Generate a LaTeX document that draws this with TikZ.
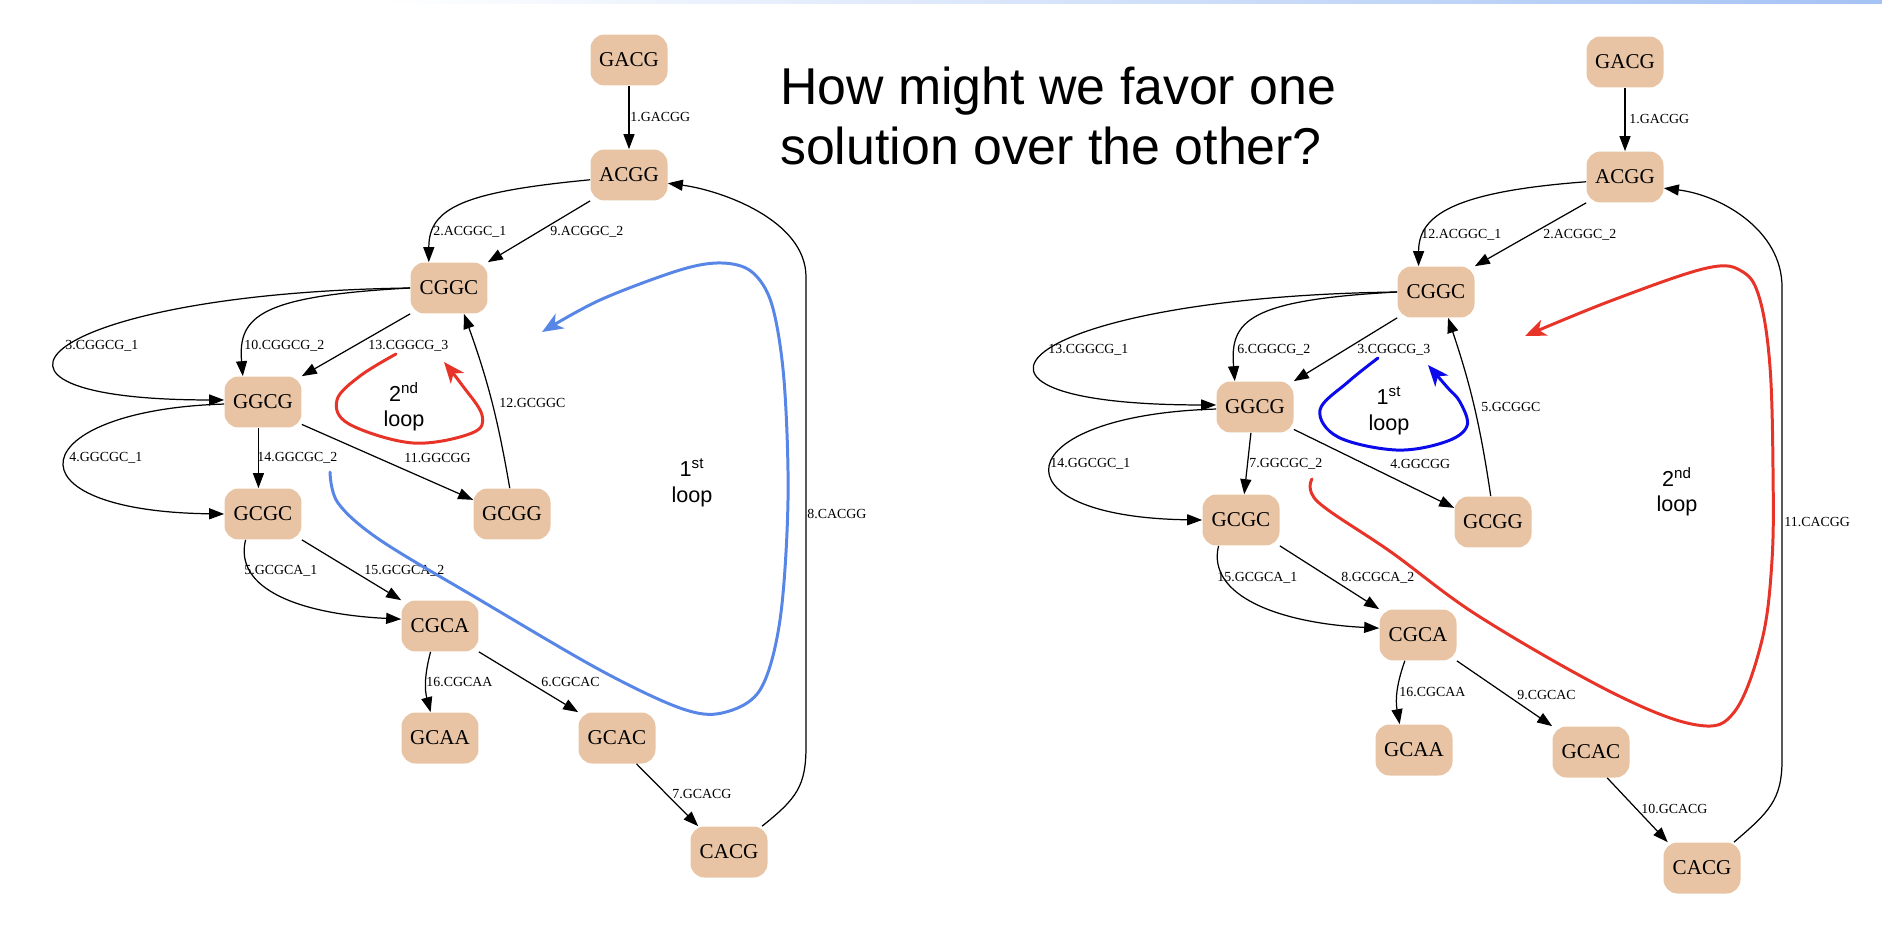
\documentclass[tikz,border=0pt]{standalone}
\usepackage{fontspec}
\setmainfont{Liberation Serif}
\setsansfont{Liberation Sans}
\usetikzlibrary{arrows.meta}

\definecolor{peach}{RGB}{232,196,164}
\definecolor{loopblue}{RGB}{88,134,230}
\definecolor{loopred}{RGB}{232,52,40}
\definecolor{deepblue}{RGB}{10,10,235}
\definecolor{barblue}{RGB}{164,194,244}

\begin{document}
\begin{tikzpicture}[x=0.02cm, y=-0.02cm,
    kmer node/.style={rectangle, rounded corners=0.28cm, fill=peach, minimum width=1.54cm,
                      minimum height=1.02cm, inner sep=0pt, font=\fontsize{12}{13}\selectfont},
    kmer edge/.style={draw, line width=0.7pt, -{Triangle[length=0.3cm,width=0.22cm]}},
    kmer label/.style={anchor=west, inner sep=0.6pt, font=\fontsize{7.9}{9}\selectfont},
    loop line/.style={line width=1.7pt, line cap=round,
                      -{Stealth[length=0.42cm,width=0.34cm,inset=0.12cm]}},
    loop text/.style={align=center, font=\sffamily\fontsize{12.3}{14.7}\selectfont},
    title text/.style={anchor=base west, font=\sffamily\fontsize{29.5}{34}\selectfont}]

  \useasboundingbox (0,0) rectangle (1882,932);
  \shade[left color=white, right color=barblue] (380,0) rectangle (1882,4);

  % left solution
  \node[kmer node] (lGACG) at (629,60)  {GACG};
  \node[kmer node] (lACGG) at (629,175) {ACGG};
  \node[kmer node] (lCGGC) at (449,288) {CGGC};
  \node[kmer node] (lGGCG) at (263,402) {GGCG};
  \node[kmer node] (lGCGC) at (263,514) {GCGC};
  \node[kmer node] (lGCGG) at (512,514) {GCGG};
  \node[kmer node] (lCGCA) at (440,626) {CGCA};
  \node[kmer node] (lGCAA) at (440,738) {GCAA};
  \node[kmer node] (lGCAC) at (617,738) {GCAC};
  \node[kmer node] (lCACG) at (729,852) {CACG};

  \draw[kmer edge] (lGACG) -- (lACGG);
  \draw[kmer edge] (lACGG.187) .. controls +(-125,12) and +(0,-55) .. (lCGGC.128);
  \draw[kmer edge] (lACGG.south west) -- (lCGGC.north east);
  \draw[kmer edge] (lCGGC.west) .. controls +(-370,5) and +(-294,0) .. (lGGCG.177);
  \draw[kmer edge] (lCGGC.west) .. controls +(-150,8) and +(-5,-60) .. (lGGCG.128);
  \draw[kmer edge] (lCGGC.south west) -- (lGGCG.north east);
  \draw[kmer edge] (lGCGG.95) to[bend right=5] (lCGGC.-60);
  \draw[kmer edge] (lGGCG.183) .. controls +(-200,6) and +(-224,-3) .. (lGCGC.west);
  \draw[kmer edge] (lGGCG.-100) -- (lGCGC.100);
  \draw[kmer edge] (lGGCG.-30) -- (lGCGG.160);
  \draw[kmer edge] (lGCGC.-124) .. controls +(-12,50) and +(-100,-5) .. (lCGCA.170);
  \draw[kmer edge] (lGCGC.south east) -- (lCGCA.north west);
  \draw[kmer edge] (lCGCA.-110) to[bend right=15] (lGCAA.110);
  \draw[kmer edge] (lCGCA.south east) -- (lGCAC.north west);
  \draw[kmer edge] (lGCAC.-53) -- (lCACG.140);
  \draw[kmer edge] (lCACG.38) .. controls +(35,-28) and +(0,40) .. (806,746)
    -- (806,277) .. controls +(0,-57) and +(53,7) .. (lACGG.-12);

  \path[every node/.style={kmer label}]
    node (lt1)  at (629,117) {1.GACGG}
    node (lt2)  at (432,232) {2.ACGGC\_1}
    node (lt9)  at (549,232) {9.ACGGC\_2}
    node (lt3)  at (64,346)  {3.CGGCG\_1}
    node (lt10) at (243,346) {10.CGGCG\_2}
    node (lt13) at (367,346) {13.CGGCG\_3}
    node (lt12) at (498,403) {12.GCGGC}
    node (lt4)  at (68,458)  {4.GGCGC\_1}
    node (lt14) at (256,458) {14.GGCGC\_2}
    node (lt11) at (403,458) {11.GGCGG}
    node (lt5)  at (243,571) {5.GCGCA\_1}
    node (lt15) at (363,571) {15.GCGCA\_2}
    node (lt16) at (425,682) {16.CGCAA}
    node (lt6)  at (540,682) {6.CGCAC}
    node (lt7)  at (671,794) {7.GCACG}
    node (lt8)  at (806,514) {8.CACGG};

  \draw[loop line, loopred] plot[smooth, tension=0.6] coordinates {(396,354) (360,376) (337,400)
    (349,424) (413,443) (472,433) (482,415) (462,385) (444,362)};
  \draw[loop line, loopblue] plot[smooth, tension=0.55] coordinates {(330,472) (338,503) (380,540)
    (480,600) (600,670) (680,708) (722,713) (760,690) (780,620) (788,500) (784,380) (772,305)
    (752,272) (722,263) (680,270) (600,300) (542,332)};
  \node[loop text] (lloop2) at (404,407) {2\textsuperscript{nd}\\loop};
  \node[loop text] (lloop1) at (692,483) {1\textsuperscript{st}\\loop};

  % question
  \node[title text] (q1) at (774,105) {How might we favor one};
  \node[title text] (q2) at (774,165) {solution over the other?};

  % right solution
  \node[kmer node] (rGACG) at (1625,62)  {GACG};
  \node[kmer node] (rACGG) at (1625,177) {ACGG};
  \node[kmer node] (rCGGC) at (1436,292) {CGGC};
  \node[kmer node] (rGGCG) at (1255,407) {GGCG};
  \node[kmer node] (rGCGC) at (1241,520) {GCGC};
  \node[kmer node] (rGCGG) at (1493,522) {GCGG};
  \node[kmer node] (rCGCA) at (1418,635) {CGCA};
  \node[kmer node] (rGCAA) at (1414,750) {GCAA};
  \node[kmer node] (rGCAC) at (1591,752) {GCAC};
  \node[kmer node] (rCACG) at (1702,868) {CACG};

  \draw[kmer edge] (rGACG) -- (rACGG);
  \draw[kmer edge] (rACGG.187) .. controls +(-135,10) and +(0,-50) .. (rCGGC.124);
  \draw[kmer edge] (rACGG.south west) -- (rCGGC.north east);
  \draw[kmer edge] (rCGGC.west) .. controls +(-380,5) and +(-310,0) .. (rGGCG.177);
  \draw[kmer edge] (rCGGC.west) .. controls +(-150,8) and +(-5,-60) .. (rGGCG.128);
  \draw[kmer edge] (rCGGC.south west) -- (rGGCG.north east);
  \draw[kmer edge] (rGCGG.95) to[bend right=5] (rCGGC.-65);
  \draw[kmer edge] (rGGCG.183) .. controls +(-210,6) and +(-212,-3) .. (rGCGC.west);
  \draw[kmer edge] (rGGCG.-99) -- (rGCGC.83);
  \draw[kmer edge] (rGGCG.-30) -- (rGCGG.160);
  \draw[kmer edge] (rGCGC.-131) .. controls +(-12,50) and +(-100,-5) .. (rCGCA.170);
  \draw[kmer edge] (rGCGC.south east) -- (rCGCA.north west);
  \draw[kmer edge] (rCGCA.-117) to[bend right=15] (rGCAA.119);
  \draw[kmer edge] (rCGCA.south east) -- (rGCAC.north west);
  \draw[kmer edge] (rGCAC.-58) -- (rCACG.143);
  \draw[kmer edge] (rCACG.39) .. controls +(35,-30) and +(0,40) .. (1782,760)
    -- (1782,287) .. controls +(0,-57) and +(57,7) .. (rACGG.-16);

  \path[every node/.style={kmer label}]
    node (rt1)  at (1628,119) {1.GACGG}
    node (rt12) at (1420,235) {12.ACGGC\_1}
    node (rt2)  at (1542,235) {2.ACGGC\_2}
    node (rt13) at (1047,350) {13.CGGCG\_1}
    node (rt6)  at (1236,350) {6.CGGCG\_2}
    node (rt3)  at (1356,350) {3.CGGCG\_3}
    node (rt5)  at (1480,407) {5.GCGGC}
    node (rt14) at (1049,464) {14.GGCGC\_1}
    node (rt7)  at (1248,464) {7.GGCGC\_2}
    node (rt4)  at (1389,464) {4.GGCGG}
    node (rt15) at (1216,578) {15.GCGCA\_1}
    node (rt8)  at (1340,578) {8.GCGCA\_2}
    node (rt16) at (1398,692) {16.CGCAA}
    node (rt9)  at (1516,695) {9.CGCAC}
    node (rt10) at (1640,809) {10.GCACG}
    node (rt11) at (1783,522) {11.CACGG};

  \draw[loop line, deepblue] plot[smooth, tension=0.6] coordinates {(1378,358) (1348,382)
    (1320,410) (1338,437) (1396,450) (1445,442) (1467,426) (1460,402) (1447,387) (1428,365)};
  \draw[loop line, loopred] plot[smooth, tension=0.6] coordinates {(1312,479) (1318,502)
    (1391,552) (1480,617) (1613,693) (1697,725) (1735,711) (1762,640) (1772,560) (1773,470)
    (1770,367) (1760,300) (1743,272) (1707,268) (1613,300) (1525,336)};
  \node[loop text] (rloop1) at (1389,411) {1\textsuperscript{st}\\loop};
  \node[loop text] (rloop2) at (1677,492) {2\textsuperscript{nd}\\loop};

\end{tikzpicture}
\end{document}
